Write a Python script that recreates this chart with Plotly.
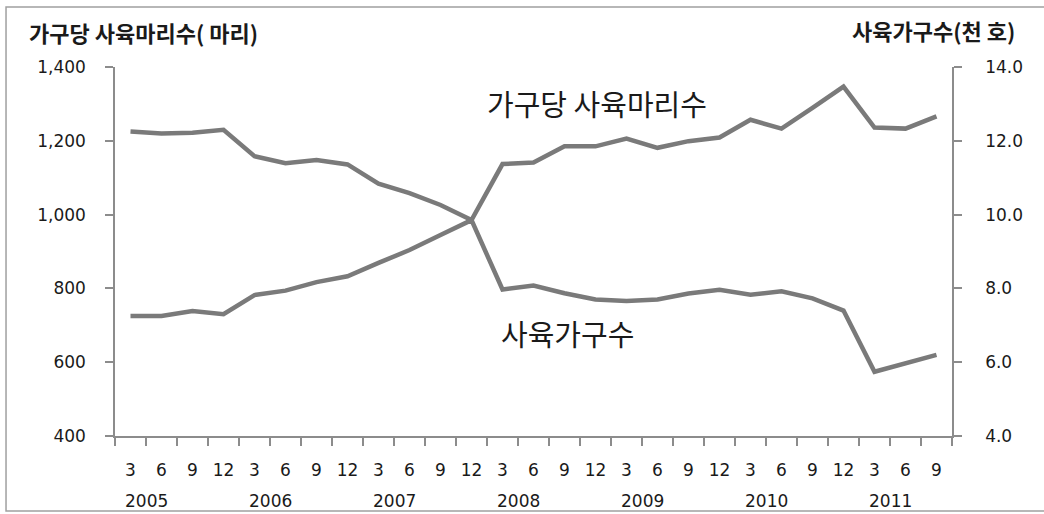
import plotly.graph_objects as go

years = ["2005", "2006", "2007", "2008", "2009", "2010", "2011"]
months = ["3", "6", "9", "12"] * 6 + ["3", "6", "9"]

# 가구당 사육마리수 (마리) - left axis
heads_per_household = [1225, 1220, 1222, 1230, 1158, 1139, 1148, 1136, 1084, 1058, 1026, 985,
                       1137, 1141, 1185, 1185, 1206, 1181, 1199, 1209, 1257, 1233, 1289, 1347,
                       1236, 1233, 1266]
# 사육가구수 (천 호) - right axis
households = [7.25, 7.25, 7.39, 7.30, 7.82, 7.94, 8.17, 8.33, 8.69, 9.04, 9.45, 9.85,
              7.97, 8.08, 7.87, 7.70, 7.66, 7.70, 7.86, 7.96, 7.83, 7.92, 7.73, 7.40,
              5.74, 5.97, 6.20]

x = list(range(len(months)))
line_color = "#7a7a7a"
axis_color = "#8c8c8c"
text_color = "#1a1a1a"
tick_font = dict(family="DejaVu Sans", size=17, color=text_color)
kr = "Noto Sans CJK KR"

fig = go.Figure()
fig.add_trace(go.Scatter(x=x, y=heads_per_household, mode="lines",
                         line=dict(color=line_color, width=4.5), yaxis="y",
                         name="가구당 사육마리수"))
fig.add_trace(go.Scatter(x=x, y=households, mode="lines",
                         line=dict(color=line_color, width=4.5), yaxis="y2",
                         name="사육가구수"))

annotations = []
for i, yr in enumerate(years):
    annotations.append(dict(x=i * 4 + 0.5, y=-0.176, xref="x", yref="paper", text=yr,
                            showarrow=False, font=tick_font, xanchor="center", yanchor="middle"))
annotations += [
    dict(x=-0.1051, y=1.0949, xref="paper", yref="paper", text="<b>가구당 사육마리수( 마리)</b>",
         showarrow=False, xanchor="left", yanchor="middle", font=dict(family=kr, size=22, color=text_color)),
    dict(x=1.0777, y=1.1003, xref="paper", yref="paper", text="<b>사육가구수(천 호)</b>",
         showarrow=False, xanchor="right", yanchor="middle", font=dict(family=kr, size=22, color=text_color)),
    dict(x=15.06, y=1302, xref="x", yref="y", text="가구당 사육마리수", showarrow=False,
         xanchor="center", yanchor="middle", font=dict(family=kr, size=29, color=text_color)),
    dict(x=14.1, y=679, xref="x", yref="y", text="사육가구수", showarrow=False,
         xanchor="center", yanchor="middle", font=dict(family=kr, size=29, color=text_color)),
]

fig.update_layout(
    width=1044, height=514,
    margin=dict(l=115, r=92, t=67, b=78),
    paper_bgcolor="white", plot_bgcolor="white",
    showlegend=False,
    xaxis=dict(range=[-0.5, 26.5], tickmode="array", tickvals=x, ticktext=months,
               ticks="", ticklen=0, ticklabelstandoff=18, showline=True, linecolor=axis_color,
               linewidth=1.5, showgrid=False, zeroline=False, tickfont=tick_font,
               minor=dict(tickmode="array", tickvals=[i - 0.5 for i in range(len(months) + 1)],
                          ticks="outside", ticklen=8, tickcolor=axis_color, tickwidth=1.5,
                          showgrid=False)),
    yaxis=dict(range=[400, 1400], tickmode="linear", tick0=400, dtick=200, tickformat=",",
               ticks="outside", ticklen=8, tickcolor=axis_color, tickwidth=1.5,
               showline=True, linecolor=axis_color, linewidth=1.5, showgrid=False,
               zeroline=False, tickfont=tick_font, ticklabelstandoff=16),
    yaxis2=dict(range=[4, 14], tickmode="linear", tick0=4, dtick=2, tickformat=".1f",
                overlaying="y", side="right", ticks="outside", ticklen=8, tickcolor=axis_color,
                tickwidth=1.5, showline=True, linecolor=axis_color, linewidth=1.5,
                showgrid=False, zeroline=False, tickfont=tick_font, ticklabelstandoff=20),
    annotations=annotations,
    shapes=[dict(type="rect", xref="paper", yref="paper", x0=-0.1302, x1=1.125,
                 y0=-0.2033, y1=1.1626, line=dict(color="#a0a0a0", width=1.5))],
)

fig.write_html("out.html", config={"displayModeBar": False},
               post_script="document.body.style.margin='0';")
